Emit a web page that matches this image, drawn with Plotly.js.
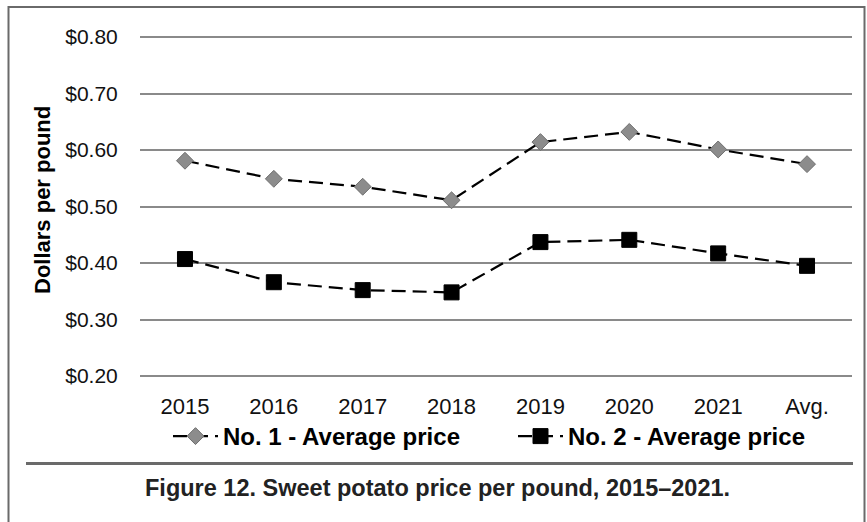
<!DOCTYPE html>
<html>
<head>
<meta charset="utf-8">
<script src="https://cdn.plot.ly/plotly-3.0.1.min.js"></script>
<style>
html,body{margin:0;padding:0;background:#fff;}
#chart{width:867px;height:522px;}
</style>
</head>
<body>
<div id="chart"></div>
<script>
const categories = ["2015","2016","2017","2018","2019","2020","2021","Avg."];
const no1Price = [0.581, 0.549, 0.535, 0.511, 0.614, 0.632, 0.601, 0.575];
const no2Price = [0.407, 0.366, 0.352, 0.348, 0.437, 0.441, 0.417, 0.395];
const seriesNames = ["No. 1 - Average price", "No. 2 - Average price"];
const yTicks = [0.2, 0.3, 0.4, 0.5, 0.6, 0.7, 0.8];
const yTickText = ["$0.20","$0.30","$0.40","$0.50","$0.60","$0.70","$0.80"];
const yTitle = "Dollars per pound";
const captionText = "Figure 12. Sweet potato price per pound, 2015–2021.";

const FONT = "Liberation Sans, Arial, Helvetica, sans-serif";
const W = 867, H = 522;
const L = 140, R = 852, T = 34, B = 379;          // plot area (px)
const yLo = 0.2 - 3 / 565, yHi = 0.8 + 3 / 565;   // keep edge gridlines inside
const px = x => (x - L) / (R - L);
const py = y => (B - y) / (B - T);

const traces = [
  {
    x: categories, y: no1Price, name: seriesNames[0], type: "scatter", mode: "lines+markers",
    legend: "legend",
    line: {color: "#000", width: 2.2, dash: "14px,7px"},
    marker: {symbol: "diamond", size: 13, color: "#8c8c8c", line: {color: "#6e6e6e", width: 1}}
  },
  {
    x: categories, y: no2Price, name: seriesNames[1], type: "scatter", mode: "lines+markers",
    legend: "legend2",
    line: {color: "#000", width: 2.2, dash: "14px,7px"},
    marker: {symbol: "square", size: 15, color: "#000", line: {color: "#000", width: 1}}
  }
];

const legendBase = {
  orientation: "h", xanchor: "left", yanchor: "top", y: py(414),
  font: {family: FONT, size: 24, color: "#000", weight: "bold"},
  bgcolor: "rgba(0,0,0,0)", borderwidth: 0, itemwidth: 45
};

const layout = {
  width: W, height: H,
  margin: {l: L, r: W - R, t: T, b: H - B, pad: 0},
  paper_bgcolor: "#fff", plot_bgcolor: "#fff",
  font: {family: FONT, color: "#111", size: 21},
  showlegend: true,
  legend: Object.assign({}, legendBase, {x: px(168)}),
  legend2: Object.assign({}, legendBase, {x: px(513)}),
  xaxis: {
    type: "category", showgrid: false, zeroline: false, showline: false,
    ticks: "outside", ticklen: 8, tickcolor: "rgba(0,0,0,0)",
    tickfont: {family: FONT, size: 22, color: "#111"},
    fixedrange: true, automargin: false
  },
  yaxis: {
    range: [yLo, yHi], tickvals: yTicks, ticktext: yTickText,
    showgrid: true, gridcolor: "#8a8a8a", gridwidth: 2, zeroline: false, showline: false,
    ticks: "outside", ticklen: 17, tickcolor: "rgba(0,0,0,0)",
    tickfont: {family: FONT, size: 21, color: "#111"},
    fixedrange: true, automargin: false
  },
  shapes: [
    {type: "rect", xref: "paper", yref: "paper", x0: px(8.5), x1: px(864.5), y0: py(540), y1: py(7),
     line: {color: "#6a6a6a", width: 2}, fillcolor: "rgba(0,0,0,0)", layer: "above"},
    {type: "line", xref: "paper", yref: "paper", x0: px(26), x1: px(853), y0: py(463.5), y1: py(463.5),
     line: {color: "#6a6a6a", width: 3}}
  ],
  annotations: [
    {text: "<b>" + yTitle + "</b>", xref: "paper", yref: "paper", x: px(42), y: py(200),
     xanchor: "center", yanchor: "middle", showarrow: false, textangle: -90,
     font: {family: FONT, size: 22, color: "#000"}},
    {text: "<b>" + captionText + "</b>", xref: "paper", yref: "paper", x: px(437), y: py(488),
     xanchor: "center", yanchor: "middle", showarrow: false,
     font: {family: FONT, size: 23.5, color: "#222"}}
  ]
};

Plotly.newPlot("chart", traces, layout, {displayModeBar: false, staticPlot: true});
</script>
</body>
</html>
